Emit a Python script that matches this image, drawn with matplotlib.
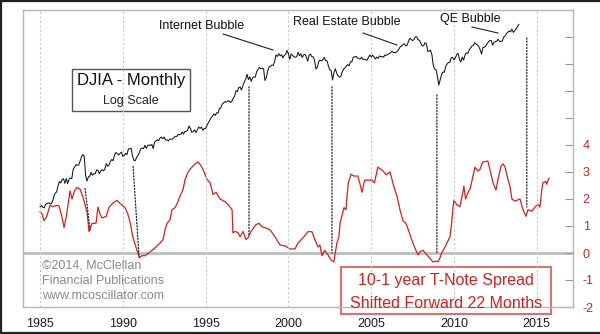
import matplotlib
matplotlib.use('Agg')
import matplotlib.pyplot as plt
from matplotlib.patches import ConnectionPatch, Rectangle
from matplotlib.lines import Line2D

plt.rcParams['font.family'] = ['Liberation Sans', 'DejaVu Sans']

# ---------------- data ----------------
djia_start_year = 1985
djia_monthly = [
    1277, 1299, 1267, 1258, 1315, 1336, 1348, 1334, 1329, 1374, 1472, 1547,
    1571, 1710, 1819, 1784, 1877, 1893, 1775, 1898, 1768, 1878, 1914, 1896,
    2158, 2224, 2305, 2286, 2292, 2419, 2572, 2663, 2596, 1994, 1834, 1939,
    1958, 2072, 1988, 2032, 2031, 2142, 2129, 2032, 2113, 2149, 2114, 2169,
    2342, 2258, 2294, 2419, 2480, 2440, 2661, 2737, 2693, 2645, 2706, 2753,
    2591, 2627, 2707, 2657, 2877, 2881, 2905, 2615, 2453, 2442, 2560, 2634,
    2736, 2882, 2914, 2888, 3028, 2907, 3025, 3044, 3017, 3069, 2895, 3169,
    3224, 3267, 3236, 3359, 3397, 3319, 3394, 3257, 3272, 3226, 3305, 3301,
    3310, 3370, 3435, 3428, 3527, 3516, 3540, 3651, 3555, 3681, 3684, 3754,
    3978, 3832, 3636, 3682, 3758, 3625, 3765, 3913, 3843, 3908, 3739, 3834,
    3843, 4011, 4158, 4321, 4465, 4556, 4708, 4611, 4789, 4756, 5075, 5117,
    5395, 5486, 5587, 5569, 5643, 5655, 5529, 5616, 5882, 6029, 6522, 6448,
    6813, 6878, 6584, 7009, 7331, 7673, 8223, 7622, 7945, 7442, 7823, 7908,
    7907, 8546, 8800, 9063, 8900, 8952, 8883, 7539, 7843, 8592, 9117, 9181,
    9359, 9307, 9786, 10789, 10560, 10971, 10655, 10829, 10337, 10729, 10878, 11497,
    10941, 10128, 10922, 10734, 10522, 10448, 10522, 11215, 10651, 10971, 10415, 10788,
    10887, 10495, 9879, 10735, 10912, 10502, 10523, 9950, 8848, 9075, 9852, 10022,
    9920, 10106, 10404, 9946, 9925, 9243, 8737, 8664, 7592, 8397, 8896, 8342,
    8054, 7891, 7992, 8480, 8850, 8985, 9234, 9416, 9275, 9801, 9782, 10454,
    10488, 10584, 10358, 10226, 10188, 10435, 10140, 10174, 10080, 10027, 10428, 10783,
    10490, 10766, 10504, 10193, 10467, 10275, 10641, 10482, 10569, 10440, 10806, 10718,
    10865, 10993, 11109, 11367, 11168, 11150, 11186, 11381, 11679, 12081, 12222, 12463,
    12622, 12269, 12354, 13063, 13628, 13409, 13212, 13358, 13896, 13930, 13372, 13265,
    12650, 12266, 12263, 12820, 12638, 11350, 11378, 11544, 10851, 9325, 8829, 8776,
    8001, 7063, 7609, 8168, 8500, 8447, 9172, 9496, 9712, 9713, 10345, 10428,
    10067, 10325, 10857, 11009, 10137, 9774, 10466, 10015, 10788, 11118, 11006, 11578,
    11892, 12226, 12320, 12811, 12570, 12414, 12143, 11614, 10913, 11955, 12046, 12218,
    12633, 12952, 13212, 13214, 12393, 12880, 13009, 13091, 13437, 13096, 13026, 13104,
    13861, 14054, 14579, 14840, 15116, 14910, 15500, 14810, 15130, 15546, 16086, 16577,
]

spread_year = [
    1985.0, 1985.12, 1985.24, 1985.4, 1985.6, 1985.8, 1986.0, 1986.15, 1986.3, 1986.45,
    1986.6, 1986.81, 1986.93, 1987.08, 1987.23, 1987.42, 1987.6, 1987.84, 1987.96, 1988.05,
    1988.14, 1988.38, 1988.5, 1988.62, 1988.74, 1988.99, 1989.17, 1989.4, 1989.65, 1989.9,
    1990.13, 1990.3, 1990.45, 1990.6, 1990.8, 1991.0, 1991.15, 1991.34, 1991.64, 1991.94,
    1992.25, 1992.43, 1992.55, 1992.67, 1992.85, 1992.97, 1993.15, 1993.33, 1993.45, 1993.64,
    1993.76, 1993.94, 1994.06, 1994.2, 1994.36, 1994.54, 1994.7, 1994.84, 1995.08, 1995.27,
    1995.45, 1995.63, 1995.87, 1996.17, 1996.35, 1996.6, 1996.65, 1996.78, 1996.96, 1997.08,
    1997.26, 1997.44, 1997.56, 1997.74, 1998.04, 1998.22, 1998.4, 1998.59, 1998.89, 1999.19,
    1999.49, 1999.8, 2000.1, 2000.4, 2000.58, 2000.88, 2001.18, 2001.42, 2001.6, 2001.79,
    2001.9, 2002.03, 2002.2, 2002.39, 2002.57, 2002.75, 2002.81, 2002.93, 2003.05, 2003.12,
    2003.25, 2003.36, 2003.48, 2003.55, 2003.62, 2003.7, 2003.78, 2003.95, 2004.2, 2004.45,
    2004.6, 2004.8, 2005.05, 2005.2, 2005.4, 2005.7, 2005.9, 2006.14, 2006.35, 2006.56,
    2006.74, 2006.92, 2007.1, 2007.28, 2007.52, 2007.7, 2007.83, 2007.95, 2008.13, 2008.37,
    2008.55, 2008.73, 2008.91, 2009.03, 2009.15, 2009.28, 2009.46, 2009.58, 2009.76, 2009.86,
    2009.94, 2010.0, 2010.16, 2010.36, 2010.54, 2010.6, 2010.7, 2010.85, 2010.97, 2011.15,
    2011.27, 2011.45, 2011.57, 2011.75, 2011.99, 2012.05, 2012.17, 2012.36, 2012.54, 2012.66,
    2012.84, 2012.96, 2013.08, 2013.26, 2013.38, 2013.5, 2013.68, 2013.99, 2014.17, 2014.35,
    2014.47, 2014.71, 2014.89, 2015.07, 2015.19, 2015.31, 2015.37, 2015.55, 2015.6, 2015.74,
]
spread_value = [
    1.53, 1.45, 1.20, 1.35, 1.76, 1.72, 1.76, 1.74, 1.40, 0.94,
    1.40, 2.30, 2.00, 2.30, 2.43, 2.36, 2.05, 1.50, 0.79, 0.95,
    1.10, 1.10, 1.70, 1.45, 1.30, 1.35, 1.70, 1.85, 1.95, 1.80,
    1.68, 1.45, 1.10, 0.60, 0.20, -0.18, -0.10, -0.10, 0.04, 0.19,
    0.37, 0.50, 0.86, 1.10, 1.23, 1.60, 1.68, 1.90, 2.10, 2.36,
    2.73, 3.00, 3.10, 3.20, 3.30, 3.37, 3.25, 3.10, 2.73, 2.60,
    2.17, 2.25, 2.00, 1.90, 1.80, 1.60, 0.75, 0.80, 0.75, 0.60,
    0.80, 0.50, 0.56, 0.80, 1.05, 1.10, 0.97, 0.94, 0.86, 0.60,
    0.30, 0.26, 0.15, 0.15, 0.37, 0.56, 0.79, 0.79, 0.50, 0.22,
    0.30, -0.10, 0.10, -0.07, -0.26, -0.33, -0.07, 0.37, 0.60, 1.10,
    1.42, 1.68, 1.60, 2.17, 2.60, 2.75, 2.92, 2.85, 2.85, 2.25,
    2.70, 2.70, 2.70, 2.60, 3.18, 3.05, 2.90, 3.00, 2.50, 2.10,
    1.60, 1.20, 1.10, 0.80, 0.37, 0.10, -0.07, 0.05, 0.10, -0.07,
    -0.20, -0.33, -0.30, -0.33, -0.19, 0.04, 0.22, 0.37, 0.60, 1.10,
    1.68, 1.96, 1.80, 1.72, 2.25, 2.48, 2.00, 2.25, 2.36, 2.85,
    3.18, 3.03, 3.10, 3.37, 3.40, 3.40, 3.10, 2.60, 2.33, 2.73,
    3.22, 3.30, 3.20, 2.73, 2.48, 2.00, 1.92, 2.00, 1.60, 1.36,
    1.60, 1.55, 1.70, 1.80, 1.70, 2.36, 2.60, 2.65, 2.55, 2.77,
]

year_ticks = [1985, 1990, 1995, 2000, 2005, 2010, 2015]
spread_ticks = [-2, -1, 0, 1, 2, 3, 4, 5, 6, 7, 8]
spread_tick_labels = ['-2', '-1', '0', '1', '2', '3', '4', '', '', '', '']

# ---------------- figure ----------------
W, H = 600, 334
fig = plt.figure(figsize=(W / 100, H / 100), dpi=100)
fig.patch.set_facecolor('white')

def fx(px):
    return px / W

def fy(py):
    return 1 - py / H

ax1 = fig.add_axes([fx(23), fy(307), fx(573) - fx(23), fy(10) - fy(307)])
ax2 = ax1.twinx()

djia_x = [djia_start_year + i / 12 for i in range(len(djia_monthly))]

# left (DJIA, log) axis
ax1.set_yscale('log')
ax1.set_ylim(312, 20290)
ax1.set_xlim(1983.97, 2017.19)
ax1.yaxis.set_visible(False)
ax1.minorticks_off()

# right (spread) axis
ax2.set_ylim(-2, 9)
ax2.set_yticks(spread_ticks)
ax2.set_yticklabels(spread_tick_labels)
ax2.tick_params(axis='y', direction='in', length=6, width=0.8, color='#999999',
                labelcolor='#cc2222', labelsize=9, pad=7)
ax2.minorticks_off()

for ax in (ax1, ax2):
    for s in ax.spines.values():
        s.set_color('#b8b8b8')
        s.set_linewidth(0.9)

ax1.set_xticks(year_ticks)
ax1.set_xticklabels([str(y) for y in year_ticks])
ax1.tick_params(axis='x', length=0, labelsize=9, labelcolor='#1a1a33', pad=8)

# vertical dotted gridlines
for yr in year_ticks:
    ax1.axvline(yr, color='#c8c8c8', lw=0.8, ls=(0, (2, 2)), zorder=0)

# zero line
ax2.axhline(0, color='#bdbdbd', lw=2.0, zorder=1)

# series
ax2.plot(spread_year, spread_value, color='#d42020', lw=0.9, zorder=3)
ax1.plot(djia_x, djia_monthly, color='#151515', lw=0.75, zorder=3)
ax1.set_zorder(ax2.get_zorder() + 1)
ax1.patch.set_visible(False)

# dotted connectors from DJIA lows to spread lows
connectors = [
    ((1987.72, 1650), (1988.02, 0.86)),
    ((1990.62, 2250), (1990.98, -0.15)),
    ((1997.62, 6900), (1997.62, 0.67)),
    ((2002.63, 6900), (2002.63, 0.0)),
    ((2008.97, 6150), (2008.97, 0.0)),
    ((2014.40, 13700), (2014.40, 1.7)),
]
for (p1, p2) in connectors:
    cp = ConnectionPatch(xyA=p1, coordsA=ax1.transData, xyB=p2, coordsB=ax2.transData,
                         color='#222222', lw=0.9, ls=(0, (1, 1.5)), zorder=4)
    fig.add_artist(cp)

# bubble annotations
fig.text(fx(202), fy(26), 'Internet Bubble', ha='center', va='center', fontsize=9, color='#111111')
fig.add_artist(Line2D([fx(223), fx(273)], [fy(34), fy(50)], color='#222222', lw=0.8))
fig.text(fx(347), fy(22), 'Real Estate Bubble', ha='center', va='center', fontsize=9, color='#111111')
fig.add_artist(Line2D([fx(363), fx(397)], [fy(33), fy(45)], color='#222222', lw=0.8))
fig.text(fx(470), fy(19), 'QE Bubble', ha='center', va='center', fontsize=9, color='#111111')
fig.add_artist(Line2D([fx(472), fx(498)], [fy(27), fy(33)], color='#222222', lw=0.8))

# DJIA title box
fig.add_artist(Rectangle((fx(72), fy(111)), fx(190) - fx(72), fy(69) - fy(111),
                         transform=fig.transFigure, facecolor='white', edgecolor='#555555', lw=1.0))
fig.text(fx(131), fy(81), 'DJIA - Monthly', ha='center', va='center', fontsize=12, color='#111111')
fig.text(fx(131), fy(101), 'Log Scale', ha='center', va='center', fontsize=9, color='#222222')

# copyright
for txt, py in [('\u00a92014, McClellan', 266), ('Financial Publications', 281),
                ('www.mcoscillator.com', 296)]:
    fig.text(fx(42), fy(py), txt, ha='left', va='center', fontsize=9, color='#8a8a8a')

# red legend box
fig.add_artist(Rectangle((fx(341), fy(314)), fx(551) - fx(341), fy(267) - fy(314),
                         transform=fig.transFigure, facecolor='white', edgecolor='#e07070', lw=1.5))
fig.text(fx(446), fy(280), '10-1 year T-Note Spread', ha='center', va='center', fontsize=11.5, color='#d42020')
fig.text(fx(446), fy(303), 'Shifted Forward 22 Months', ha='center', va='center', fontsize=11.5, color='#d42020')

# image border (top, left, bottom)
for xs, ys in [([0, 1], [1 - 1 / H, 1 - 1 / H]), ([1 / W, 1 / W], [0, 1]),
               ([0, 1], [1 / H, 1 / H])]:
    fig.add_artist(Line2D(xs, ys, color='#222222', lw=1.6))

fig.savefig('out.png', dpi=100, facecolor='white')
